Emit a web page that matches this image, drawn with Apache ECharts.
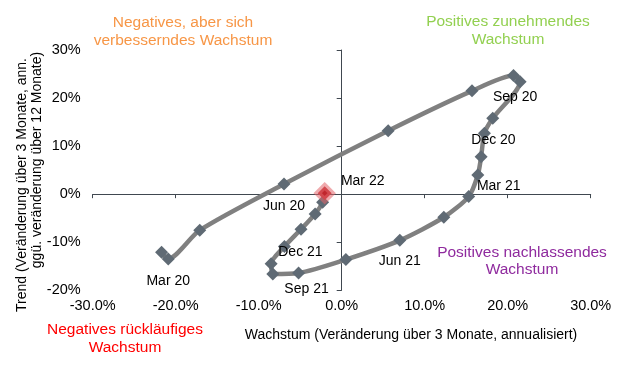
<!DOCTYPE html>
<html>
<head>
<meta charset="utf-8">
<script src="https://cdn.jsdelivr.net/npm/echarts@6/dist/echarts.min.js"></script>
<style>
html,body{margin:0;padding:0;background:#fff;}
#chart{width:632px;height:368px;}
</style>
</head>
<body>
<div id="chart"></div>
<script>
// Growth (x, % annualised 3m change) and trend (y) readings
const growth = [-21.7, -20.9, -17.1, -6.95, 5.6, 15.7, 20.7, 21.5, 18.2, 17.2, 16.8, 16.4, 15.3, 12.3, 7.0, 0.5, -5.2, -8.3, -8.5, -6.9, -4.9, -3.2, -2.3, -2.05];
const trend  = [-12.1, -13.5, -7.5, 2.1, 13.2, 21.5, 24.7, 23.4, 15.8, 12.7, 7.8, 4.0, -0.5, -4.8, -9.6, -13.6, -16.4, -16.6, -14.5, -10.9, -7.3, -4.1, -1.7, 0.2];
const pointLabels = ['', 'Mar 20', '', 'Jun 20', '', '', '', 'Sep 20', '', 'Dec 20', '', '', 'Mar 21', '', 'Jun 21', '', 'Sep 21', '', '', 'Dec 21', '', '', '', 'Mar 22'];
const xTicks = [-30, -20, -10, 0, 10, 20, 30];
const yTicks = [-20, -10, 0, 10, 20, 30];
const xTitle = 'Wachstum (Veränderung über 3 Monate, annualisiert)';
const yTitle1 = 'Trend (Veränderung über 3 Monate, ann.';
const yTitle2 = 'ggü. veränderung über 12 Monate)';
const quadrants = [
  'Negatives, aber sich\nverbesserndes Wachstum',
  'Positives zunehmendes\nWachstum',
  'Positives nachlassendes\nWachstum',
  'Negatives rückläufiges\nWachstum'
];

const FONT = '"Liberation Sans", Arial, sans-serif';
const labelOffsets = {
  1: [0, 22], 3: [0, 22], 7: [-5, 15], 9: [9, 7], 12: [30, -10],
  14: [0, 21], 16: [8, 16], 19: [16, 6], 23: [38, -12]
};
const lastIdx = growth.length - 1;
const data = growth.map((g, i) => {
  const item = { value: [g, trend[i]] };
  if (pointLabels[i]) {
    item.label = {
      show: true, formatter: pointLabels[i], position: 'inside',
      offset: labelOffsets[i] || [0, 20], color: '#000', fontSize: 14, fontFamily: FONT
    };
  }
  if (i === lastIdx) {
    item.symbolSize = 14;
    item.itemStyle = { color: '#c0262d', borderColor: 'rgba(225,100,105,0.55)', borderWidth: 6 };
  }
  return item;
});

const chart = echarts.init(document.getElementById('chart'), null, { renderer: 'canvas' });
const gridL = 92.7, gridR = 41.3, gridT = 50, gridB = 77.7;
const xMin = xTicks[0], xMax = xTicks[xTicks.length - 1];
const yMin = yTicks[0], yMax = yTicks[yTicks.length - 1];

chart.setOption({
  animation: false,
  backgroundColor: '#fff',
  grid: { left: gridL, right: gridR, top: gridT, bottom: gridB, containLabel: false },
  xAxis: [
    { type: 'value', position: 'bottom', min: xMin, max: xMax, interval: 10,
      axisLine: { show: false, onZero: false }, axisTick: { show: false }, splitLine: { show: false },
      axisLabel: { margin: 8, color: '#000', fontSize: 14.5, fontFamily: FONT,
        formatter: v => v.toFixed(1) + '%' } },
    { type: 'value', position: 'top', min: xMin, max: xMax, interval: 10,
      axisLine: { show: true, onZero: true, onZeroAxisIndex: 0, lineStyle: { color: '#404850', width: 1 } },
      axisTick: { show: true, inside: true, length: 4, lineStyle: { color: '#404850' } },
      axisLabel: { show: false }, splitLine: { show: false } }
  ],
  yAxis: [
    { type: 'value', position: 'left', min: yMin, max: yMax, interval: 10,
      axisLine: { show: false, onZero: false }, axisTick: { show: false }, splitLine: { show: false },
      axisLabel: { margin: 12, color: '#000', fontSize: 14.5, fontFamily: FONT,
        formatter: v => v + '%' } },
    { type: 'value', position: 'right', min: yMin, max: yMax, interval: 10,
      axisLine: { show: true, onZero: true, onZeroAxisIndex: 0, lineStyle: { color: '#404850', width: 1 } },
      axisTick: { show: true, inside: true, length: 5, lineStyle: { color: '#404850' } },
      axisLabel: { show: false }, splitLine: { show: false } }
  ],
  series: [{
    type: 'line',
    xAxisIndex: 0, yAxisIndex: 0,
    data: data,
    smooth: 0.25,
    symbol: 'diamond',
    symbolSize: 13,
    lineStyle: { color: '#808080', width: 4.5 },
    itemStyle: { color: '#5f6a74' },
    z: 5
  }],
  graphic: [
    { type: 'text', x: 411, y: 335, style: { text: xTitle, fill: '#000', font: '14px ' + FONT, align: 'center', verticalAlign: 'middle' } },
    { type: 'text', x: 21.7, y: 185, rotation: Math.PI / 2, style: { text: yTitle1, fill: '#000', font: '14px ' + FONT, align: 'center', verticalAlign: 'middle' } },
    { type: 'text', x: 37, y: 160, rotation: Math.PI / 2, style: { text: yTitle2, fill: '#000', font: '14px ' + FONT, align: 'center', verticalAlign: 'middle' } },
    { type: 'text', x: 183, y: 32, style: { text: quadrants[0], fill: '#f79646', font: '15.5px ' + FONT, align: 'center', verticalAlign: 'middle', lineHeight: 18 } },
    { type: 'text', x: 508, y: 31, style: { text: quadrants[1], fill: '#92d050', font: '15.5px ' + FONT, align: 'center', verticalAlign: 'middle', lineHeight: 18 } },
    { type: 'text', x: 522, y: 261, style: { text: quadrants[2], fill: '#8f2a9e', font: '15.5px ' + FONT, align: 'center', verticalAlign: 'middle', lineHeight: 17 } },
    { type: 'text', x: 125, y: 339, style: { text: quadrants[3], fill: '#ff0000', font: '15.5px ' + FONT, align: 'center', verticalAlign: 'middle', lineHeight: 18 } }
  ]
});
</script>
</body>
</html>
